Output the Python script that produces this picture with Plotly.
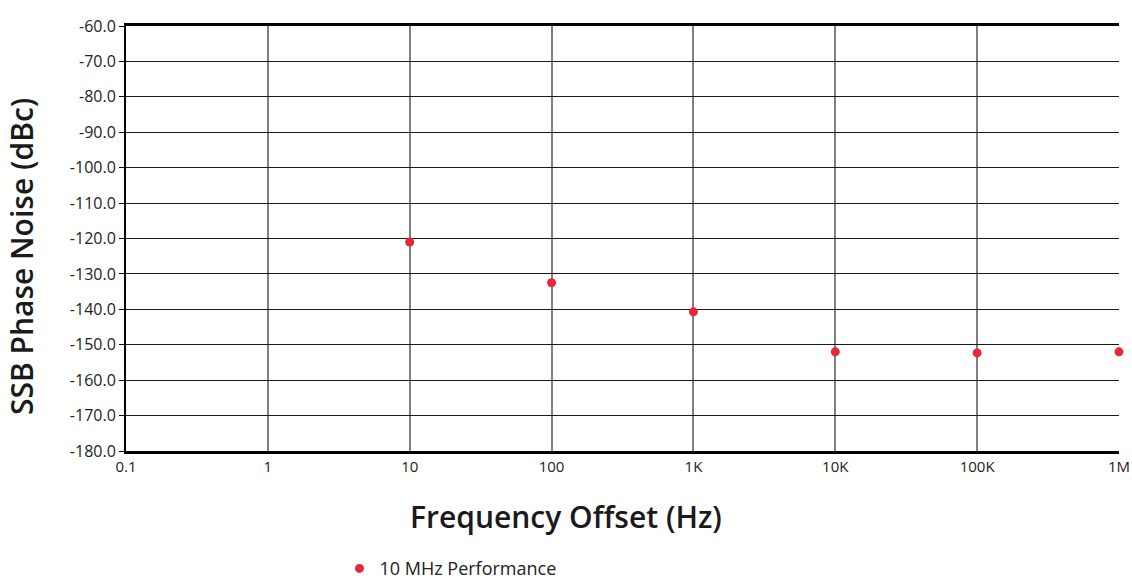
import plotly.graph_objects as go

freq_hz = [10, 100, 1000, 10000, 100000, 1000000]
phase_noise_dbc = [-121.0, -132.5, -140.7, -152.0, -152.3, -152.0]
series_name = "10 MHz Performance"

x_tick_vals = [0.1, 1, 10, 100, 1000, 10000, 100000, 1000000]
x_tick_text = ["0.1", "1", "10", "100", "1K", "10K", "100K", "1M"]
y_tick_vals = [-60, -70, -80, -90, -100, -110, -120, -130, -140, -150, -160, -170, -180]
y_tick_text = [f"{v:.1f}" for v in y_tick_vals]
x_title = "Frequency Offset (Hz)"
y_title = "SSB Phase Noise (dBc)"

fig = go.Figure()
fig.add_trace(go.Scatter(
    x=freq_hz, y=phase_noise_dbc, mode="markers", name=series_name,
    marker=dict(color="#e8283a", size=9),
    cliponaxis=False,
))

title_font = dict(size=30, family="Open Sans", color="#1a1a1a", weight=600)
fig.update_layout(
    width=1132, height=583,
    margin=dict(l=126, r=13, t=26, b=132, autoexpand=False),
    paper_bgcolor="white", plot_bgcolor="white",
    font=dict(family="Open Sans", color="#222222", size=15),
    showlegend=True,
    legend=dict(orientation="h", x=0.215, y=-0.277, xanchor="left", yanchor="middle",
                font=dict(size=18, color="#222222")),
    annotations=[
        dict(text=x_title, xref="paper", yref="paper", x=0.443, y=-0.155,
             xanchor="center", yanchor="middle", showarrow=False, font=title_font),
        dict(text=y_title, xref="paper", yref="paper", x=-0.1047, y=0.4565,
             xanchor="center", yanchor="middle", showarrow=False, textangle=-90, font=title_font),
    ],
)
fig.update_xaxes(
    type="log", range=[-1, 6], automargin=False,
    tickvals=x_tick_vals, ticktext=x_tick_text,
    showgrid=True, gridcolor="#808080", gridwidth=2,
    showline=True, linecolor="black", linewidth=3, mirror=True,
    ticks="", tickfont=dict(size=15),
    zeroline=False,
)
fig.update_yaxes(
    range=[-180, -60], automargin=False,
    tickvals=y_tick_vals, ticktext=y_tick_text,
    showgrid=True, gridcolor="#1a1a1a", gridwidth=1,
    showline=True, linecolor="black", linewidth=2,
    ticks="outside", ticklen=5, tickcolor="black", tickwidth=1,
    tickfont=dict(size=16),
    zeroline=False,
)

fig.write_html("out.html", config={"displayModeBar": False},
               post_script="document.body.style.margin='0';")
